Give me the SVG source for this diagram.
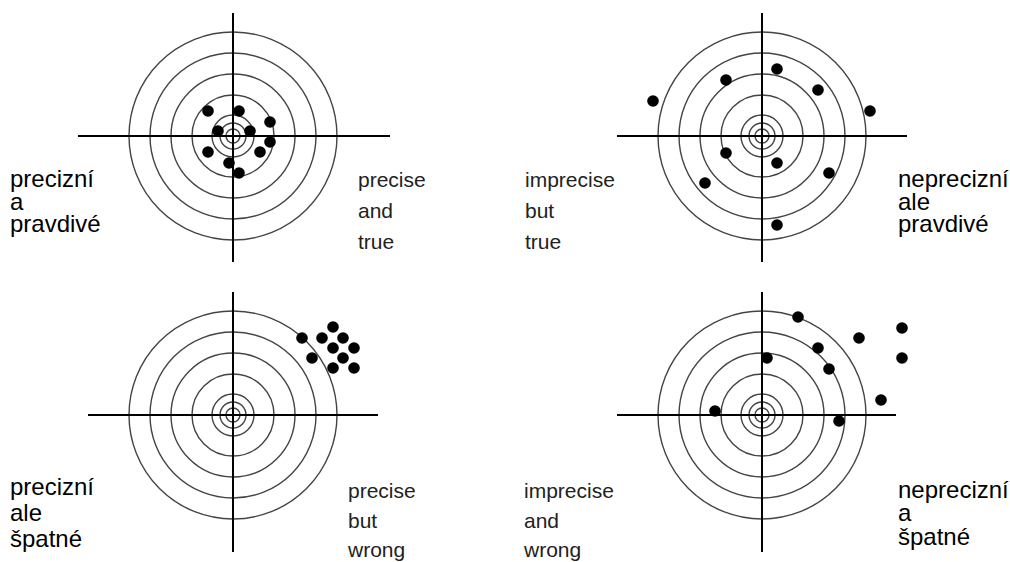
<svg xmlns="http://www.w3.org/2000/svg" xmlns:xlink="http://www.w3.org/1999/xlink" width="1010" height="562" viewBox="0 0 1010 562">
<style>
.ring{fill:none;stroke:#444;stroke-width:1.4}
.axis{stroke:#000;stroke-width:2;fill:none}
.dot{fill:#000}
.cz{font-family:"Liberation Sans",Arial,sans-serif;font-size:24px;fill:#000}
.en{font-family:"Liberation Sans",Arial,sans-serif;font-size:21px;fill:#222}
</style>
<defs>
<g id="rings">
<circle class="ring" r="7"/>
<circle class="ring" r="13"/>
<circle class="ring" r="21"/>
<circle class="ring" r="41"/>
<circle class="ring" r="62"/>
<circle class="ring" r="83"/>
<circle class="ring" r="104"/>
</g>
</defs>
<rect width="1010" height="562" fill="#fff"/>

<g id="target-precise-true">
<use xlink:href="#rings" x="233" y="136"/>
<line class="axis" x1="78" y1="136" x2="390" y2="136"/>
<line class="axis" x1="233" y1="13" x2="233" y2="262"/>
<g class="dot">
<circle cx="208" cy="111" r="5.8"/>
<circle cx="239" cy="111" r="5.8"/>
<circle cx="270" cy="122" r="5.8"/>
<circle cx="218" cy="131" r="5.8"/>
<circle cx="250" cy="131" r="5.8"/>
<circle cx="270" cy="142" r="5.8"/>
<circle cx="208" cy="152" r="5.8"/>
<circle cx="260" cy="152" r="5.8"/>
<circle cx="229" cy="163" r="5.8"/>
<circle cx="239" cy="173" r="5.8"/>
</g>
</g>

<g id="target-imprecise-true">
<use xlink:href="#rings" x="762" y="136"/>
<line class="axis" x1="617" y1="136" x2="907" y2="136"/>
<line class="axis" x1="762" y1="13" x2="762" y2="262"/>
<g class="dot">
<circle cx="653" cy="101" r="5.8"/>
<circle cx="726" cy="80" r="5.8"/>
<circle cx="777" cy="69" r="5.8"/>
<circle cx="818" cy="90" r="5.8"/>
<circle cx="870" cy="111" r="5.8"/>
<circle cx="726" cy="153" r="5.8"/>
<circle cx="777" cy="163" r="5.8"/>
<circle cx="829" cy="173" r="5.8"/>
<circle cx="705" cy="183" r="5.8"/>
<circle cx="777" cy="225" r="5.8"/>
</g>
</g>

<g id="target-precise-wrong">
<use xlink:href="#rings" x="233" y="415"/>
<line class="axis" x1="88" y1="415" x2="378" y2="415"/>
<line class="axis" x1="233" y1="292" x2="233" y2="552"/>
<g class="dot">
<circle cx="333" cy="327" r="5.8"/>
<circle cx="302" cy="338" r="5.8"/>
<circle cx="322" cy="338" r="5.8"/>
<circle cx="343" cy="338" r="5.8"/>
<circle cx="333" cy="348" r="5.8"/>
<circle cx="354" cy="348" r="5.8"/>
<circle cx="312" cy="358" r="5.8"/>
<circle cx="343" cy="358" r="5.8"/>
<circle cx="333" cy="368" r="5.8"/>
<circle cx="354" cy="368" r="5.8"/>
</g>
</g>

<g id="target-imprecise-wrong">
<use xlink:href="#rings" x="762" y="415"/>
<line class="axis" x1="617" y1="415" x2="896" y2="415"/>
<line class="axis" x1="762" y1="292" x2="762" y2="552"/>
<g class="dot">
<circle cx="798" cy="317" r="5.8"/>
<circle cx="902" cy="328" r="5.8"/>
<circle cx="859" cy="338" r="5.8"/>
<circle cx="818" cy="348" r="5.8"/>
<circle cx="902" cy="358" r="5.8"/>
<circle cx="767" cy="358" r="5.8"/>
<circle cx="829" cy="369" r="5.8"/>
<circle cx="881" cy="400" r="5.8"/>
<circle cx="715" cy="411" r="5.8"/>
<circle cx="839" cy="421" r="5.8"/>
</g>
</g>

<g id="label-precizni-a-pravdive">
<text class="cz" x="10" y="187">precizní</text>
<text class="cz" x="10" y="210">a</text>
<text class="cz" x="10" y="232">pravdivé</text>
</g>
<g id="label-precise-and-true">
<text class="en" x="358" y="187">precise</text>
<text class="en" x="358" y="218">and</text>
<text class="en" x="358" y="249">true</text>
</g>
<g id="label-imprecise-but-true">
<text class="en" x="525" y="187">imprecise</text>
<text class="en" x="525" y="218">but</text>
<text class="en" x="525" y="249">true</text>
</g>
<g id="label-neprecizni-ale-pravdive">
<text class="cz" x="898" y="187">neprecizní</text>
<text class="cz" x="898" y="210">ale</text>
<text class="cz" x="898" y="232">pravdivé</text>
</g>
<g id="label-precizni-ale-spatne">
<text class="cz" x="10" y="495">precizní</text>
<text class="cz" x="10" y="521">ale</text>
<text class="cz" x="10" y="547">špatné</text>
</g>
<g id="label-precise-but-wrong">
<text class="en" x="348" y="498">precise</text>
<text class="en" x="348" y="528">but</text>
<text class="en" x="348" y="557">wrong</text>
</g>
<g id="label-imprecise-and-wrong">
<text class="en" x="524" y="498">imprecise</text>
<text class="en" x="524" y="528">and</text>
<text class="en" x="524" y="557">wrong</text>
</g>
<g id="label-neprecizni-a-spatne">
<text class="cz" x="898" y="498">neprecizní</text>
<text class="cz" x="898" y="521">a</text>
<text class="cz" x="898" y="545">špatné</text>
</g>
<g id="connectors"/>
</svg>
